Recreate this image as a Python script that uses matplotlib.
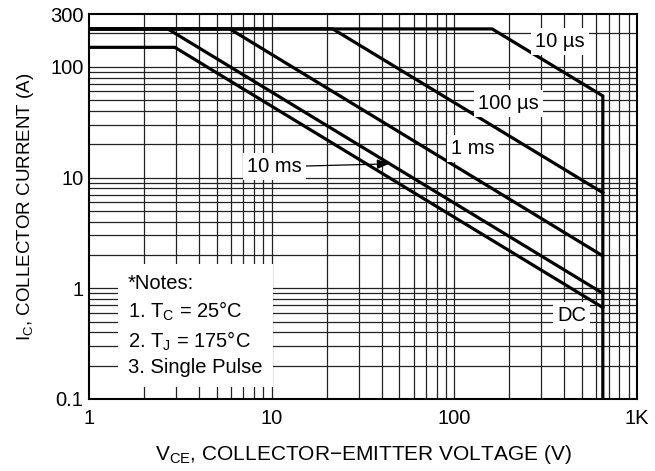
import matplotlib
matplotlib.use("Agg")
import matplotlib.pyplot as plt
from matplotlib.ticker import FixedLocator, NullFormatter

plt.rcParams['font.family'] = ['Liberation Sans', 'DejaVu Sans']
plt.rcParams['mathtext.fontset'] = 'custom'
plt.rcParams['mathtext.rm'] = 'Liberation Sans'
plt.rcParams['mathtext.default'] = 'rm'

# Curve data (V_CE in volts, I_C in amperes)
v_10us = [1, 161, 650, 650]
i_10us = [220, 220, 54.6, 0.1]
v_100us = [1, 21.6, 650]
i_100us = [220, 220, 7.3]
v_1ms = [1, 5.9, 650]
i_1ms = [220, 220, 1.96]
v_10ms = [1, 2.7, 650]
i_10ms = [220, 220, 0.9]
v_dc = [1, 2.95, 650]
i_dc = [150, 150, 0.67]

x_ticks = [1, 10, 100, 1000]
x_tick_labels = ['1', '10', '100', '1K']
y_ticks = [0.1, 1, 10, 100, 300]
y_tick_labels = ['0.1', '1', '10', '100', '300']

labels = ['10 µs', '100 µs', '1 ms', '10 ms', 'DC']
label_v = [378, 197, 127, 10.4, 438]
label_i = [169, 46.7, 18.3, 12.5, 0.573]

notes = "*Notes:\n1. T$_C$ = 25°C\n2. T$_J$ = 175°C\n3. Single Pulse"

fig = plt.figure(figsize=(6.55, 4.71), dpi=100)
ax = fig.add_axes([89/655, 1-399/471, 548/655, 385/471])
ax.set_xscale('log')
ax.set_yscale('log')
ax.set_xlim(1, 1000)
ax.set_ylim(0.1, 300)

# grid
xminor = [m * d for d in (1, 10, 100) for m in range(2, 10)]
yminor = [m * d for d in (0.1, 1, 10) for m in range(2, 10)] + [200]
for xv in xminor + [10, 100]:
    ax.axvline(xv, color='#222222', lw=0.9, zorder=1)
for yv in yminor + [1, 10, 100]:
    ax.axhline(yv, color='#222222', lw=0.9, zorder=1)

lw = 2.3
for v, i in [(v_10us, i_10us), (v_100us, i_100us), (v_1ms, i_1ms),
             (v_10ms, i_10ms), (v_dc, i_dc)]:
    ax.plot(v, i, color='black', lw=lw, solid_joinstyle='miter', zorder=3)

fs = 14.5
for k, (t, xv, yv) in enumerate(zip(labels, label_v, label_i)):
    if t == '10 ms':
        ax.annotate(t, xy=(44, 13.3), xytext=(xv, yv), ha='center', va='center',
                    fontsize=fs, zorder=5,
                    bbox=dict(boxstyle='square,pad=0.2', fc='white', ec='none'),
                    arrowprops=dict(arrowstyle='-|>,head_length=0.5,head_width=0.2',
                                    color='black', lw=0.9, shrinkA=0, shrinkB=0),
                    )
    else:
        ax.text(xv, yv, t, ha='center', va='center', fontsize=fs, zorder=5,
                bbox=dict(boxstyle='square,pad=0.2', fc='white', ec='none'))

ax.text(0.0712, 0.191, notes, transform=ax.transAxes, ha='left', va='center',
        fontsize=fs, linespacing=1.37, zorder=5,
        bbox=dict(boxstyle='square,pad=0.5', fc='white', ec='none'))

ax.xaxis.set_major_locator(FixedLocator(x_ticks))
ax.xaxis.set_minor_locator(FixedLocator([]))
ax.xaxis.set_minor_formatter(NullFormatter())
ax.set_xticklabels(x_tick_labels)
ax.yaxis.set_major_locator(FixedLocator(y_ticks))
ax.yaxis.set_minor_locator(FixedLocator([]))
ax.yaxis.set_minor_formatter(NullFormatter())
ax.set_yticklabels(y_tick_labels)
ax.tick_params(axis='both', length=0, labelsize=fs)
ax.tick_params(axis='x', pad=7)
ax.tick_params(axis='y', pad=4)

for s in ax.spines.values():
    s.set_linewidth(1.5)
    s.set_zorder(6)

ax.set_xlabel('V$_{CE}$, COLLECTOR−EMITTER VOLTAGE (V)', fontsize=15, labelpad=11)
ax.set_ylabel('I$_C$, COLLECTOR CURRENT (A)', fontsize=13.5, labelpad=10)

fig.savefig('out.png', dpi=100)
